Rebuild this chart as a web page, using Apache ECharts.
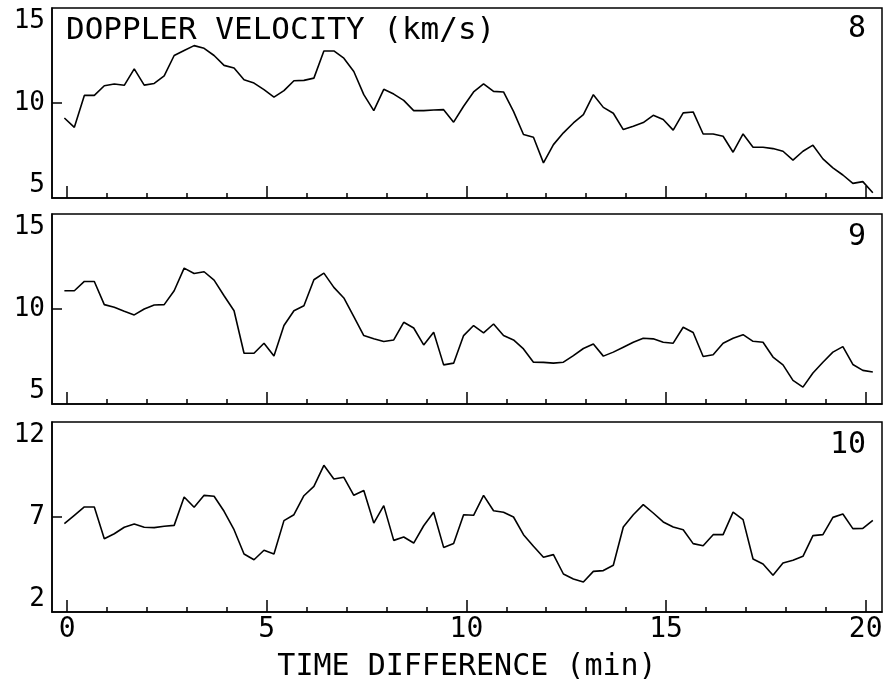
<!DOCTYPE html>
<html>
<head>
<meta charset="utf-8">
<script src="https://cdn.jsdelivr.net/npm/echarts@6/dist/echarts.min.js"></script>
<style>
  html, body { margin: 0; padding: 0; background: #fff; }
  #chart { width: 886px; height: 685px; }
</style>
</head>
<body>
<div id="chart"></div>
<script>
// sample times (min), one every 0.25 min
var times = [-0.07, 0.18, 0.43, 0.68, 0.93, 1.18, 1.43, 1.68, 1.93, 2.18, 2.43, 2.68, 2.93, 3.18,
    3.43, 3.68, 3.93, 4.18, 4.43, 4.68, 4.93, 5.18, 5.43, 5.68, 5.93, 6.18, 6.43, 6.68, 6.93, 7.18,
    7.43, 7.68, 7.93, 8.18, 8.43, 8.68, 8.93, 9.18, 9.43, 9.68, 9.93, 10.18, 10.43, 10.68, 10.93,
    11.18, 11.43, 11.68, 11.93, 12.18, 12.43, 12.68, 12.93, 13.18, 13.43, 13.68, 13.93, 14.18,
    14.43, 14.68, 14.93, 15.18, 15.43, 15.68, 15.93, 16.18, 16.43, 16.68, 16.93, 17.18, 17.43,
    17.68, 17.93, 18.18, 18.43, 18.68, 18.93, 19.18, 19.43, 19.68, 19.93, 20.18];

var vel8 = [9.21, 8.72, 10.40, 10.40, 10.91, 11.00, 10.93, 11.80, 10.94, 11.03, 11.43, 12.50,
    12.76, 13.02, 12.88, 12.50, 11.98, 11.84, 11.22, 11.05, 10.70, 10.31, 10.65, 11.17, 11.19,
    11.31, 12.74, 12.74, 12.36, 11.66, 10.44, 9.60, 10.72, 10.47, 10.14, 9.60, 9.60, 9.63, 9.65,
    8.99, 9.83, 10.58, 11.01, 10.61, 10.58, 9.56, 8.34, 8.20, 6.85, 7.81, 8.43, 8.95, 9.39,
    10.44, 9.77, 9.46, 8.60, 8.78, 8.97, 9.35, 9.13, 8.57, 9.48, 9.53, 8.37, 8.37, 8.25, 7.41,
    8.37, 7.67, 7.67, 7.60, 7.46, 6.99, 7.46, 7.78, 7.06, 6.59, 6.21, 5.77, 5.86, 5.28];

var vel9 = [10.96, 10.96, 11.45, 11.45, 10.23, 10.09, 9.88, 9.69, 10.00, 10.21, 10.23, 10.96,
    12.15, 11.87, 11.96, 11.52, 10.70, 9.91, 7.67, 7.67, 8.20, 7.53, 9.13, 9.91, 10.17, 11.54,
    11.89, 11.14, 10.58, 9.60, 8.60, 8.43, 8.29, 8.37, 9.30, 9.00, 8.11, 8.78, 7.06, 7.15, 8.60,
    9.13, 8.74, 9.21, 8.60, 8.37, 7.90, 7.20, 7.19, 7.15, 7.20, 7.55, 7.92, 8.16, 7.52, 7.73,
    7.99, 8.25, 8.46, 8.43, 8.25, 8.20, 9.04, 8.76, 7.50, 7.59, 8.20, 8.46, 8.65, 8.30, 8.25,
    7.47, 7.06, 6.24, 5.89, 6.63, 7.20, 7.73, 8.02, 7.08, 6.77, 6.68];

var vel10 = [6.65, 7.09, 7.53, 7.53, 5.86, 6.12, 6.46, 6.63, 6.46, 6.44, 6.51, 6.56, 8.05, 7.51,
    8.14, 8.09, 7.30, 6.33, 5.05, 4.75, 5.25, 5.05, 6.81, 7.12, 8.12, 8.61, 9.72, 9.00, 9.09,
    8.14, 8.39, 6.68, 7.60, 5.77, 5.95, 5.63, 6.54, 7.25, 5.40, 5.60, 7.12, 7.09, 8.14, 7.33,
    7.25, 7.00, 6.07, 5.46, 4.88, 5.02, 4.00, 3.74, 3.58, 4.14, 4.18, 4.46, 6.47, 7.12, 7.65,
    7.21, 6.74, 6.47, 6.33, 5.60, 5.49, 6.07, 6.07, 7.26, 6.86, 4.79, 4.53, 3.93, 4.58, 4.72,
    4.93, 6.02, 6.07, 6.98, 7.16, 6.39, 6.40, 6.82];

var minorTicks = [0, 1, 2, 3, 4, 5, 6, 7, 8, 9, 10, 11, 12, 13, 14, 15, 16, 17, 18, 19, 20];
var majorTicks = [0, 5, 10, 15, 20];
var yLabels8 = [5, 10, 15];
var yLabels9 = [5, 10, 15];
var yLabels10 = [2, 7, 12];
var panelNames = ['8', '9', '10'];

var font = '"DejaVu Sans Mono", "Liberation Mono", monospace';

function init() {
    var chart = echarts.init(document.getElementById('chart'));

    function pairs(vals) {
        var out = [];
        for (var i = 0; i < times.length; i++) {
            out.push([times[i], vals[i]]);
        }
        return out;
    }

    var gridTops = [8, 214, 422];
    var grids = [];
    var xAxes = [];
    var yAxes = [];
    var series = [];
    var yLabelSets = [yLabels8, yLabels9, yLabels10];
    var seriesData = [vel8, vel9, vel10];

    for (var g = 0; g < 3; g++) {
        grids.push({
            left: 52, top: gridTops[g], width: 830, height: 190,
            show: true, borderColor: '#000', borderWidth: 1.5,
            backgroundColor: 'transparent'
        });
        // minor ticks every minute
        xAxes.push({
            type: 'value', gridIndex: g, position: 'bottom',
            min: -0.38, max: 20.41,
            axisLine: { show: false, onZero: false },
            splitLine: { show: false },
            axisTick: { show: true, inside: true, length: 5, customValues: minorTicks,
                lineStyle: { color: '#000', width: 1.5 } },
            axisLabel: { show: false }
        });
        // major ticks every 5 minutes
        xAxes.push({
            type: 'value', gridIndex: g, position: 'bottom',
            min: -0.38, max: 20.41,
            name: g === 2 ? 'TIME DIFFERENCE (min)' : '',
            nameLocation: 'middle', nameGap: 40,
            nameTextStyle: { fontFamily: font, fontSize: 30, color: '#000' },
            axisLine: { show: true, onZero: false, lineStyle: { color: '#000', width: 1.5 } },
            splitLine: { show: false },
            axisTick: { show: true, inside: true, length: 12, customValues: majorTicks,
                lineStyle: { color: '#000', width: 1.5 } },
            axisLabel: { show: g === 2, customValues: majorTicks, margin: 4,
                fontFamily: font, fontSize: 28, color: '#000' }
        });
        var labs = yLabelSets[g];
        yAxes.push({
            type: 'value', gridIndex: g, position: 'left',
            min: labs[0], max: labs[2],
            axisLine: { show: true, onZero: false, lineStyle: { color: '#000', width: 1.5 } },
            splitLine: { show: false },
            axisTick: { show: true, inside: true, length: 10, customValues: [labs[1]],
                lineStyle: { color: '#000', width: 1.5 } },
            axisLabel: { customValues: labs, margin: 7, fontFamily: font, fontSize: 26, color: '#000',
                verticalAlignMinLabel: 'bottom', verticalAlignMaxLabel: 'top' }
        });
        series.push({
            type: 'line', xAxisIndex: g * 2, yAxisIndex: g,
            data: pairs(seriesData[g]),
            showSymbol: false, symbol: 'none',
            lineStyle: { color: '#000', width: 1.6 },
            silent: true
        });
    }

    var texts = [{
        type: 'text', left: 66, top: 15,
        style: { text: 'DOPPLER VELOCITY (km/s)', font: '31px ' + font, fill: '#000' }
    }];
    var labelTops = [14, 222, 430];
    for (var k = 0; k < 3; k++) {
        texts.push({
            type: 'text', right: 20, top: labelTops[k],
            style: { text: panelNames[k], font: '30px ' + font, fill: '#000' }
        });
    }

    chart.setOption({
        backgroundColor: '#fff',
        animation: false,
        grid: grids,
        xAxis: xAxes,
        yAxis: yAxes,
        series: series,
        graphic: texts
    });
}
document.addEventListener('DOMContentLoaded', init);
</script>
</body>
</html>
